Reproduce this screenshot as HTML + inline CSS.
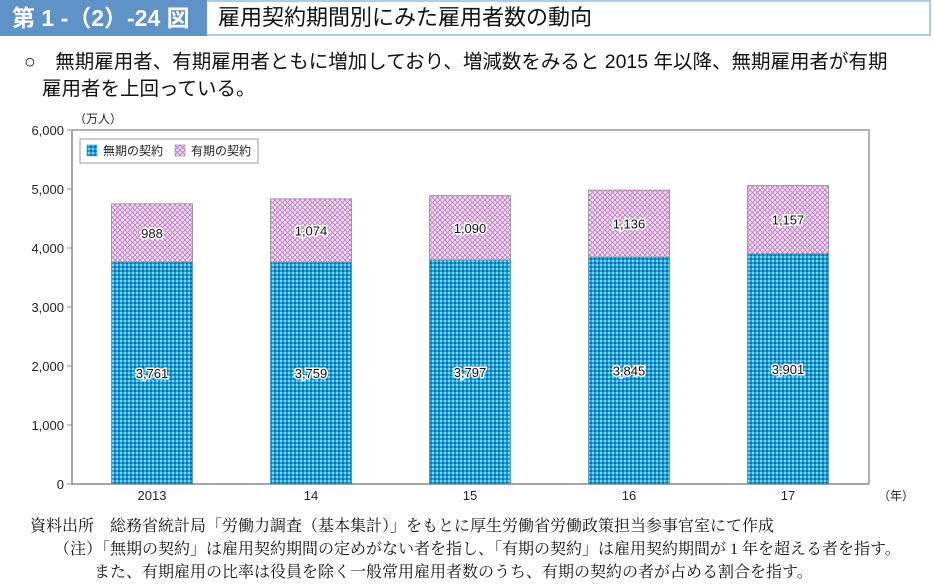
<!DOCTYPE html>
<html><head><meta charset="utf-8">
<style>
body{margin:0;width:933px;height:581px;background:#fff;overflow:hidden;font-family:"Liberation Sans","Noto Sans CJK JP",sans-serif;}
.abs{position:absolute}
</style></head>
<body>
<div class="abs" style="left:0;top:0;width:929px;height:32px;border:2px solid #a9cdf0;border-left:none;"></div>
<div class="abs" style="left:0;top:0;width:207px;height:36px;background:#5f93c8;color:#fff;font-size:23px;line-height:36px;padding-left:12px;box-sizing:border-box;font-weight:bold;">第 1 -（2）-24 図</div>
<div class="abs" style="left:218px;top:0;height:36px;line-height:36px;font-size:22px;color:#111;">雇用契約期間別にみた雇用者数の動向</div>
<div class="abs" style="left:24px;top:49px;width:905px;font-size:19.5px;line-height:27px;color:#111;white-space:nowrap;">○　無期雇用者、有期雇用者ともに増加しており、増減数をみると 2015 年以降、無期雇用者が有期<br><span style="padding-left:18px">雇用者を上回っている。</span></div>
<svg class="abs" style="left:0;top:0" width="933" height="581">
<defs>
<pattern id="pb" width="4" height="4" patternUnits="userSpaceOnUse">
<rect width="4" height="4" fill="#1aa3d8"/><rect x="0" y="0" width="2" height="2" fill="#7fd3ef"/><rect x="2" y="2" width="2" height="2" fill="#0d6fb0"/>
</pattern>
<pattern id="pp" width="5" height="5" patternUnits="userSpaceOnUse">
<rect width="5" height="5" fill="#f6e6f6"/><path d="M0 0L5 5M5 0L0 5" stroke="#c37fc8" stroke-width="1"/>
</pattern>
</defs>
<g id="g"></g>
</svg>
<div class="abs" style="left:30px;top:515px;font-family:'Liberation Serif','Noto Serif CJK SC',serif;font-size:16px;line-height:23px;color:#111;white-space:nowrap;">資料出所　総務省統計局「労働力調査（基本集計）」をもとに厚生労働省労働政策担当参事官室にて作成<br>　　（注）「無期の契約」は雇用契約期間の定めがない者を指し、「有期の契約」は雇用契約期間が 1 年を超える者を指す。<br>　　　　また、有期雇用の比率は役員を除く一般常用雇用者数のうち、有期の契約の者が占める割合を指す。</div>
<script>
const categories=["2013","14","15","16","17"];
const permanent=[3761,3759,3797,3845,3901];
const fixedTerm=[988,1074,1090,1136,1157];
const yTicks=[0,1000,2000,3000,4000,5000,6000];
const yTickLabels=["0","1,000","2,000","3,000","4,000","5,000","6,000"];
const NS="http://www.w3.org/2000/svg";
const g=document.getElementById('g');
const L=72,R=869,T=130,B=484,YMAX=6000;
const y=v=>B-(v/YMAX)*(B-T);
const step=159,x0=152,bw=81;
const xc=i=>x0+i*step;
function mk(t,a,txt){const e=document.createElementNS(NS,t);for(const k in a)e.setAttribute(k,a[k]);if(txt!==undefined)e.textContent=txt;g.appendChild(e);return e;}
const fmt=v=>v.toLocaleString('en-US');
let e=mk('path',{d:`M${L} ${T}H${R}V${B}`,fill:'none',stroke:'#999','stroke-width':1.5});

e=mk('path',{d:`M${L} ${T}V${B}H${R}`,fill:'none',stroke:'#888','stroke-width':1.5});

yTicks.forEach((t,i)=>{
 e=mk('line',{x1:L-5,x2:L,y1:y(t),y2:y(t),stroke:'#888'});
 
 e=mk('text',{x:L-8,y:y(t)+5,'text-anchor':'end','font-size':13,fill:'#222'},yTickLabels[i]);
 
});
e=mk('text',{x:74,y:123,'font-size':12,fill:'#222'},'（万人）');

e=mk('text',{x:878,y:500,'font-size':12,fill:'#222'},'（年）');

categories.forEach((c,i)=>{
 const cx=xc(i),a=permanent[i],b=fixedTerm[i];
 e=mk('rect',{x:cx-bw/2,y:y(a),width:bw,height:B-y(a),fill:'url(#pb)',stroke:'#4a8fb8','stroke-width':0.8});
 
 e=mk('rect',{x:cx-bw/2,y:y(a+b),width:bw,height:y(a)-y(a+b),fill:'url(#pp)',stroke:'#888','stroke-width':0.8});
 
 e=mk('text',{x:cx,y:y(a/2)+5,'text-anchor':'middle','font-size':13,fill:'#111',stroke:'#fff','stroke-width':3,'paint-order':'stroke'},fmt(a));
 
 e=mk('text',{x:cx,y:y(a+b/2)+5,'text-anchor':'middle','font-size':13,fill:'#111',stroke:'#fff','stroke-width':3,'paint-order':'stroke'},fmt(b));
 
 e=mk('text',{x:cx,y:500,'text-anchor':'middle','font-size':13,fill:'#222'},c);
 
});
e=mk('rect',{x:80,y:139,width:178,height:24,fill:'#fff',stroke:'#999'});

e=mk('rect',{x:87,y:145,width:10,height:11,fill:'url(#pb)',stroke:'#4a8fb8','stroke-width':0.6});

e=mk('text',{x:103,y:155,'font-size':12,fill:'#222'},'無期の契約');

e=mk('rect',{x:175,y:145,width:10,height:11,fill:'url(#pp)',stroke:'#888','stroke-width':0.6});

e=mk('text',{x:191,y:155,'font-size':12,fill:'#222'},'有期の契約');

</script>
</body></html>
